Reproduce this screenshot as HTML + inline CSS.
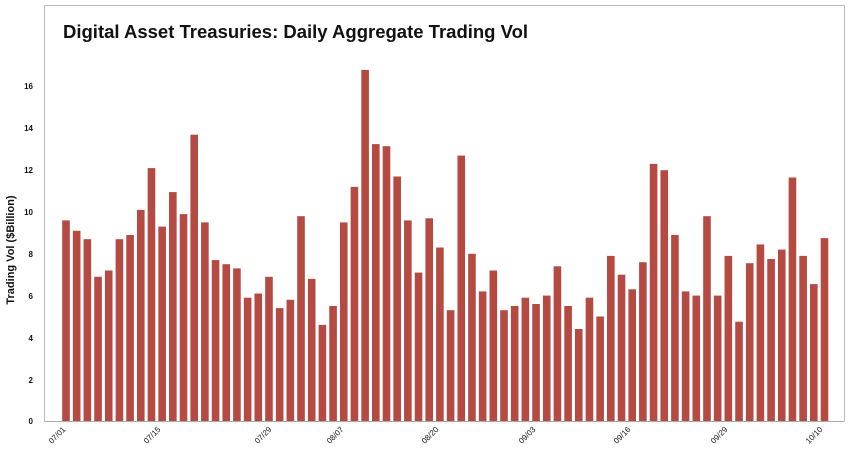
<!DOCTYPE html>
<html><head><meta charset="utf-8"><style>body{margin:0;background:#fff}svg{display:block}</style></head>
<body>
<svg width="850" height="455" xmlns="http://www.w3.org/2000/svg" font-family="Liberation Sans, sans-serif">
<rect x="0" y="0" width="850" height="455" fill="#fff"/>
<polyline points="44.5,421.5 44.5,5.5 844.5,5.5 844.5,421.5" fill="none" stroke="#bbb" stroke-width="1"/>
<text x="63" y="38" font-size="18.5" font-weight="bold" fill="#111">Digital Asset Treasuries: Daily Aggregate Trading Vol</text>
<g font-size="8" font-weight="bold" text-anchor="end" fill="#111">
<text x="33" y="424">0</text><text x="33" y="383">2</text><text x="33" y="341">4</text><text x="33" y="299">6</text><text x="33" y="257">8</text><text x="33" y="215">10</text><text x="33" y="173">12</text><text x="33" y="131">14</text><text x="33" y="89">16</text>
</g>
<text transform="translate(14,250) rotate(-90)" font-size="11" font-weight="bold" text-anchor="middle" fill="#111">Trading Vol ($Billion)</text>
<g fill="#b44a41" transform="translate(0,421) scale(1,-1)">
<rect x="62.2" y="0" width="7.6" height="200.6"/>
<rect x="72.88" y="0" width="7.6" height="190.2"/>
<rect x="83.57" y="0" width="7.6" height="181.8"/>
<rect x="94.25" y="0" width="7.6" height="144.2"/>
<rect x="104.93" y="0" width="7.6" height="150.5"/>
<rect x="115.62" y="0" width="7.6" height="181.8"/>
<rect x="126.3" y="0" width="7.6" height="186.0"/>
<rect x="136.98" y="0" width="7.6" height="211.1"/>
<rect x="147.66" y="0" width="7.6" height="252.9"/>
<rect x="158.35" y="0" width="7.6" height="194.4"/>
<rect x="169.03" y="0" width="7.6" height="228.9"/>
<rect x="179.71" y="0" width="7.6" height="206.9"/>
<rect x="190.4" y="0" width="7.6" height="286.3"/>
<rect x="201.08" y="0" width="7.6" height="198.6"/>
<rect x="211.76" y="0" width="7.6" height="160.9"/>
<rect x="222.45" y="0" width="7.6" height="156.8"/>
<rect x="233.13" y="0" width="7.6" height="152.6"/>
<rect x="243.81" y="0" width="7.6" height="123.3"/>
<rect x="254.49" y="0" width="7.6" height="127.5"/>
<rect x="265.18" y="0" width="7.6" height="144.2"/>
<rect x="275.86" y="0" width="7.6" height="112.9"/>
<rect x="286.54" y="0" width="7.6" height="121.2"/>
<rect x="297.23" y="0" width="7.6" height="204.8"/>
<rect x="307.91" y="0" width="7.6" height="142.1"/>
<rect x="318.59" y="0" width="7.6" height="96.1"/>
<rect x="329.28" y="0" width="7.6" height="115.0"/>
<rect x="339.96" y="0" width="7.6" height="198.6"/>
<rect x="350.64" y="0" width="7.6" height="234.1"/>
<rect x="361.32" y="0" width="7.6" height="351.1"/>
<rect x="372.01" y="0" width="7.6" height="276.9"/>
<rect x="382.69" y="0" width="7.6" height="274.8"/>
<rect x="393.37" y="0" width="7.6" height="244.5"/>
<rect x="404.06" y="0" width="7.6" height="200.6"/>
<rect x="414.74" y="0" width="7.6" height="148.4"/>
<rect x="425.42" y="0" width="7.6" height="202.7"/>
<rect x="436.11" y="0" width="7.6" height="173.5"/>
<rect x="446.79" y="0" width="7.6" height="110.8"/>
<rect x="457.47" y="0" width="7.6" height="265.4"/>
<rect x="468.15" y="0" width="7.6" height="167.2"/>
<rect x="478.84" y="0" width="7.6" height="129.6"/>
<rect x="489.52" y="0" width="7.6" height="150.5"/>
<rect x="500.2" y="0" width="7.6" height="110.8"/>
<rect x="510.89" y="0" width="7.6" height="115.0"/>
<rect x="521.57" y="0" width="7.6" height="123.3"/>
<rect x="532.25" y="0" width="7.6" height="117.0"/>
<rect x="542.94" y="0" width="7.6" height="125.4"/>
<rect x="553.62" y="0" width="7.6" height="154.7"/>
<rect x="564.3" y="0" width="7.6" height="115.0"/>
<rect x="574.98" y="0" width="7.6" height="92.0"/>
<rect x="585.67" y="0" width="7.6" height="123.3"/>
<rect x="596.35" y="0" width="7.6" height="104.5"/>
<rect x="607.03" y="0" width="7.6" height="165.1"/>
<rect x="617.72" y="0" width="7.6" height="146.3"/>
<rect x="628.4" y="0" width="7.6" height="131.7"/>
<rect x="639.08" y="0" width="7.6" height="158.8"/>
<rect x="649.77" y="0" width="7.6" height="257.1"/>
<rect x="660.45" y="0" width="7.6" height="250.8"/>
<rect x="671.13" y="0" width="7.6" height="186.0"/>
<rect x="681.81" y="0" width="7.6" height="129.6"/>
<rect x="692.5" y="0" width="7.6" height="125.4"/>
<rect x="703.18" y="0" width="7.6" height="204.8"/>
<rect x="713.86" y="0" width="7.6" height="125.4"/>
<rect x="724.55" y="0" width="7.6" height="165.1"/>
<rect x="735.23" y="0" width="7.6" height="99.3"/>
<rect x="745.91" y="0" width="7.6" height="157.8"/>
<rect x="756.6" y="0" width="7.6" height="176.6"/>
<rect x="767.28" y="0" width="7.6" height="162.0"/>
<rect x="777.96" y="0" width="7.6" height="171.4"/>
<rect x="788.64" y="0" width="7.6" height="243.5"/>
<rect x="799.33" y="0" width="7.6" height="165.1"/>
<rect x="810.01" y="0" width="7.6" height="136.9"/>
<rect x="820.69" y="0" width="7.6" height="182.9"/>
</g>
<line x1="44" y1="421.5" x2="844" y2="421.5" stroke="#aaa"/>
<g font-size="8" fill="#111" text-anchor="end">
<text transform="translate(66,430) rotate(-45)">07/01</text>
<text transform="translate(161,430) rotate(-45)">07/15</text>
<text transform="translate(272,430) rotate(-45)">07/29</text>
<text transform="translate(344,430) rotate(-45)">08/07</text>
<text transform="translate(439,430) rotate(-45)">08/20</text>
<text transform="translate(536,430) rotate(-45)">09/03</text>
<text transform="translate(631,430) rotate(-45)">09/16</text>
<text transform="translate(728,430) rotate(-45)">09/29</text>
<text transform="translate(823,430) rotate(-45)">10/10</text>
</g>
</svg>
</body></html>
